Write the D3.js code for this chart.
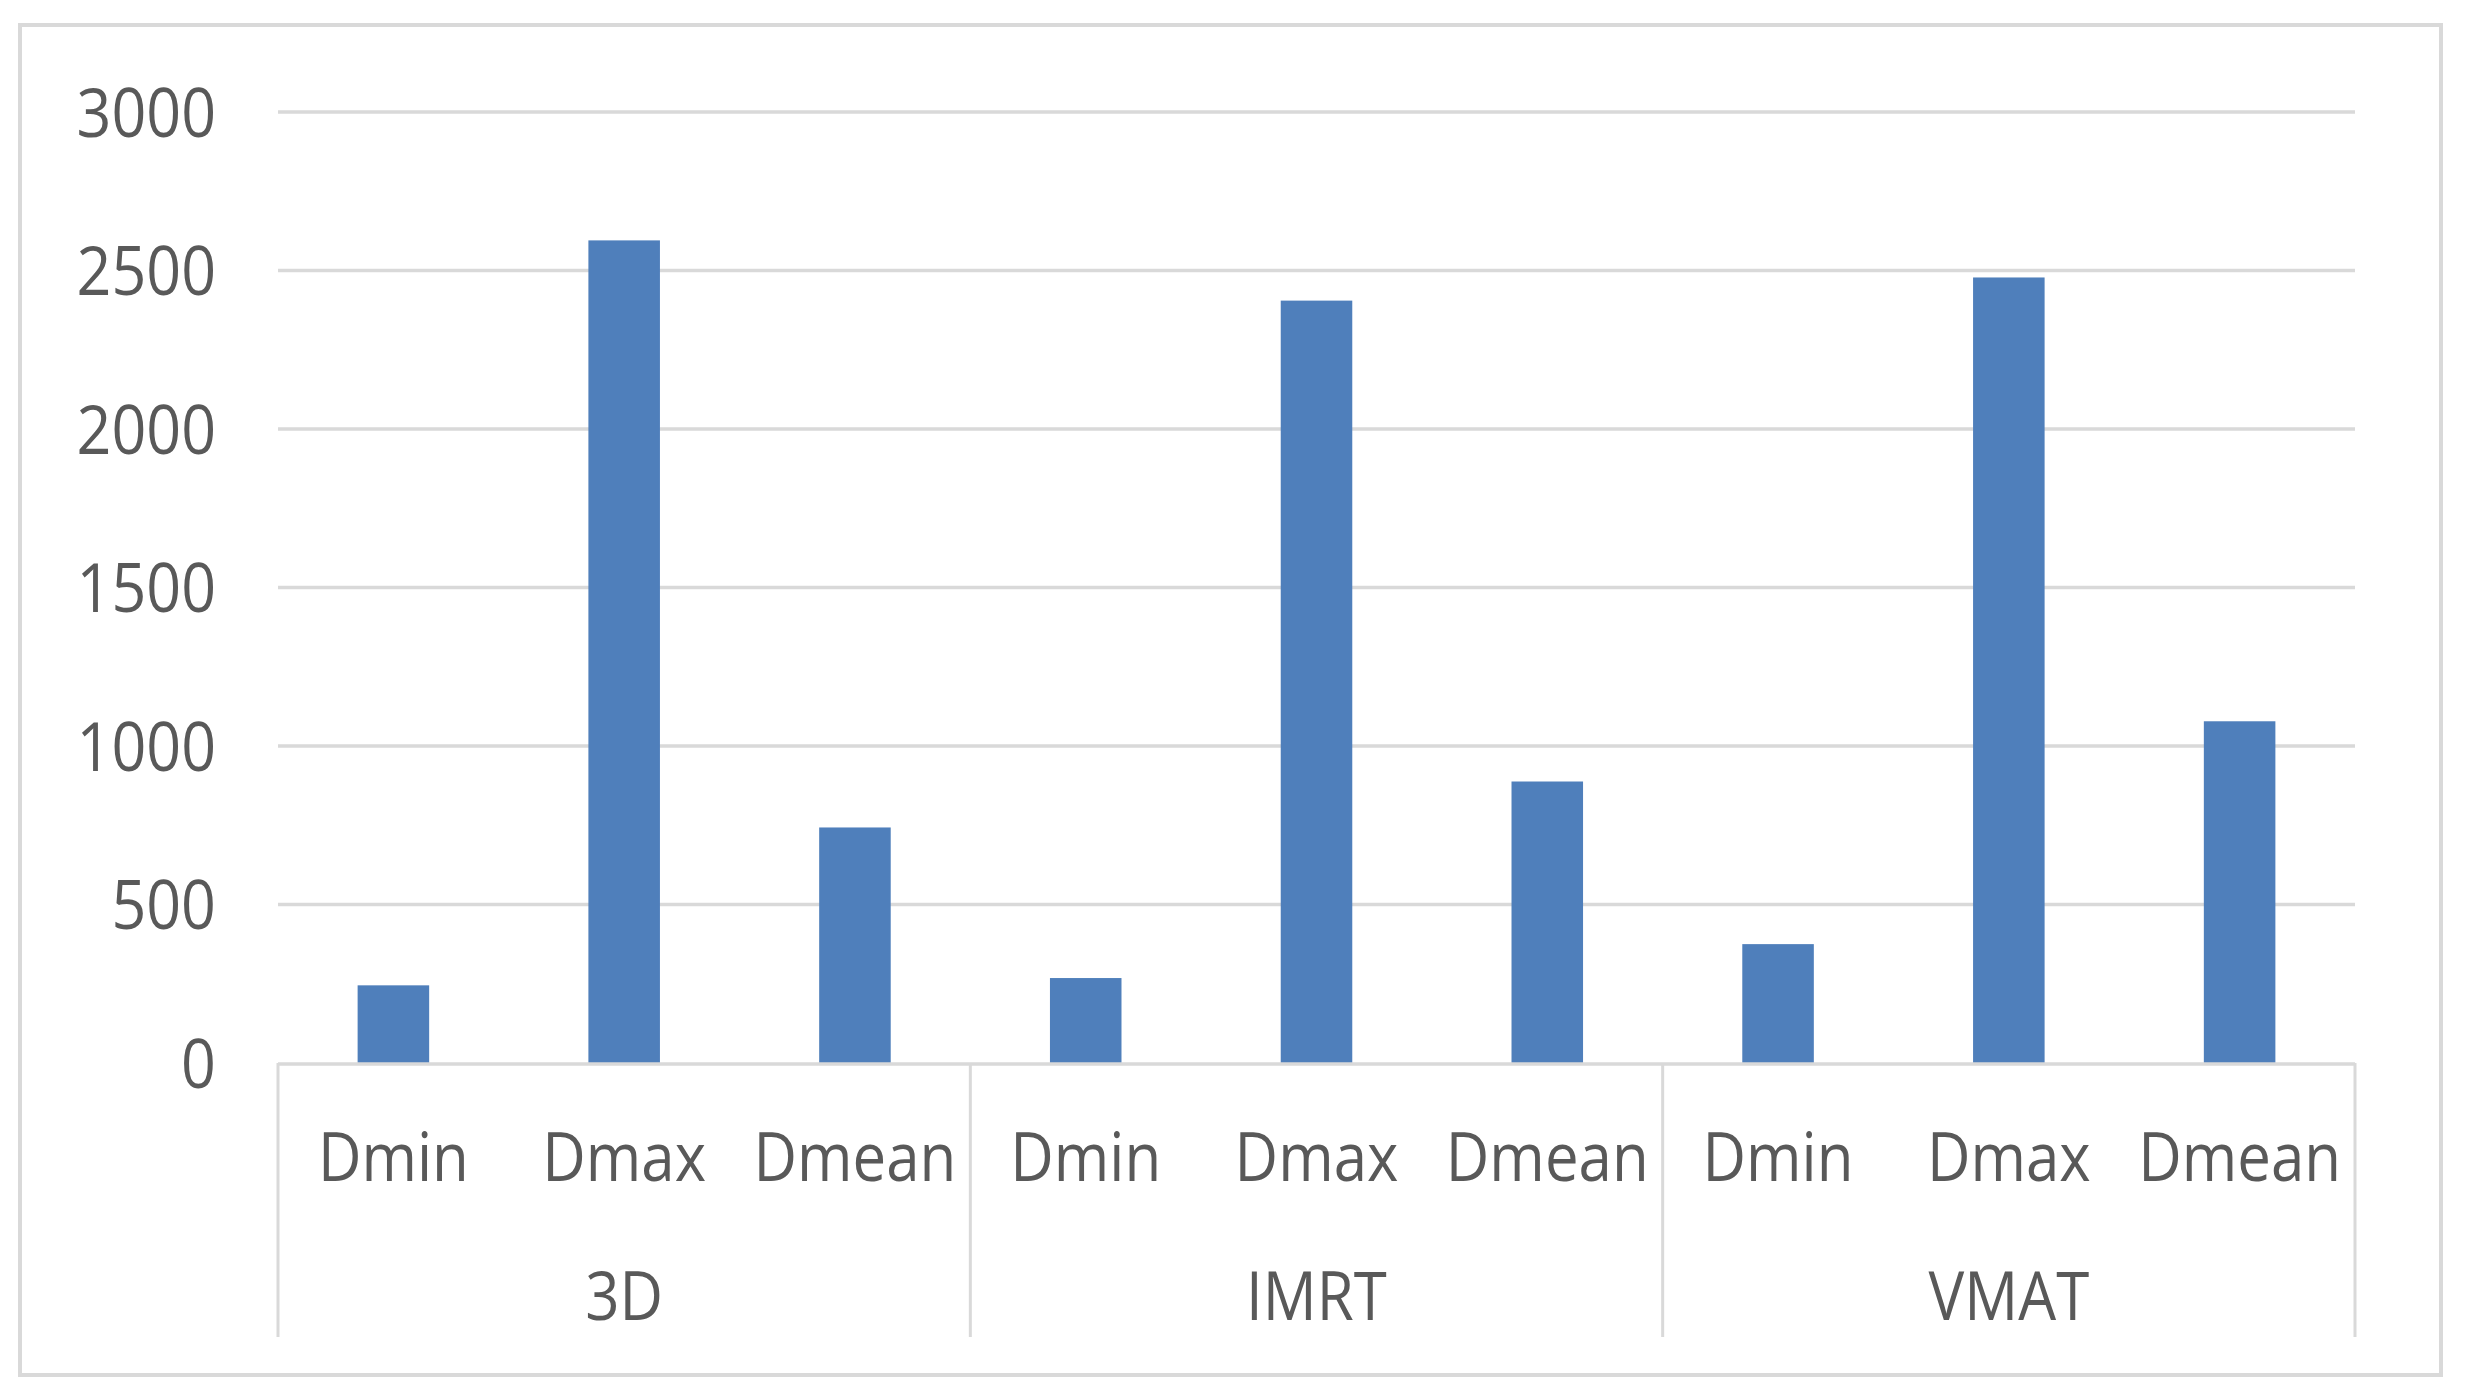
<!DOCTYPE html>
<html><head><meta charset="utf-8">
<script src="https://cdn.jsdelivr.net/npm/d3@7"></script>
<style>html,body{margin:0;padding:0;background:#fff;}</style>
</head><body>
<svg id="c" width="2473" height="1399"></svg>
<script>
const groups = ["3D", "IMRT", "VMAT"];
const metrics = ["Dmin", "Dmax", "Dmean"];
const values3D = [245, 2595, 743];
const valuesIMRT = [268, 2405, 888];
const valuesVMAT = [375, 2478, 1078];
const yTicks = [0, 500, 1000, 1500, 2000, 2500, 3000];

const seriesByGroup = [values3D, valuesIMRT, valuesVMAT];
const data = [];
groups.forEach((g, gi) => metrics.forEach((m, mi) => data.push({key: g + "|" + m, group: g, metric: m, value: seriesByGroup[gi][mi]})));

const svg = d3.select("#c");
const W = 2473, H = 1399;
const L = 278, R = 2355, T = 112, B = 1063, axisBottom = 1337;
const font = "'Open Sans', 'Noto Sans', sans-serif";
const textColor = "#595959";
const stretch = 1.12;

svg.append("rect").attr("x", 0).attr("y", 0).attr("width", W).attr("height", H).attr("fill", "#fff");
svg.append("rect").attr("x", 20).attr("y", 25).attr("width", 2421).attr("height", 1350)
  .attr("fill", "#fff").attr("stroke", "#d9d9d9").attr("stroke-width", 4);

const y = d3.scaleLinear().domain([0, 3000]).range([B, T]);
const x = d3.scaleBand().domain(data.map(d => d.key)).range([L, R]).paddingInner(0.69).paddingOuter(0.345);
const xg = d3.scaleBand().domain(groups).range([L, R]);

// gridlines
svg.append("g").selectAll("line").data(yTicks.filter(t => t > 0)).join("line")
  .attr("x1", L).attr("x2", R).attr("y1", d => y(d)).attr("y2", d => y(d))
  .attr("stroke", "#d9d9d9").attr("stroke-width", 3.5);

// y labels
svg.append("g").selectAll("text").data(yTicks).join("text")
  .attr("transform", d => `translate(216,${y(d)}) scale(1,${stretch})`)
  .attr("text-anchor", "end").attr("dy", "0.36em")
  .attr("font-family", font).attr("font-size", 61).attr("fill", textColor)
  .text(d => d);

// bars
svg.append("g").selectAll("rect").data(data).join("rect")
  .attr("x", d => x(d.key)).attr("width", x.bandwidth())
  .attr("y", d => y(d.value)).attr("height", d => y(0) - y(d.value))
  .attr("fill", "#4f7fbb");

// axis line
svg.append("line").attr("x1", L).attr("x2", R).attr("y1", B + 1).attr("y2", B + 1)
  .attr("stroke", "#d9d9d9").attr("stroke-width", 3.5);

// group separators
const seps = groups.map(g => xg(g)).concat([R]);
svg.append("g").selectAll("line").data(seps).join("line")
  .attr("x1", d => d).attr("x2", d => d).attr("y1", B).attr("y2", axisBottom)
  .attr("stroke", "#d9d9d9").attr("stroke-width", 3);

// metric labels
svg.append("g").selectAll("text").data(data).join("text")
  .attr("transform", d => `translate(${x(d.key) + x.bandwidth() / 2},1157) scale(1,${stretch})`)
  .attr("text-anchor", "middle").attr("dy", "0.36em")
  .attr("font-family", font).attr("font-size", 60).attr("fill", textColor)
  .text(d => d.metric);

// group labels
svg.append("g").selectAll("text").data(groups).join("text")
  .attr("transform", d => `translate(${xg(d) + xg.bandwidth() / 2},1296) scale(1,${stretch})`)
  .attr("text-anchor", "middle").attr("dy", "0.36em")
  .attr("font-family", font).attr("font-size", 60).attr("fill", textColor)
  .text(d => d);
</script>
</body></html>
